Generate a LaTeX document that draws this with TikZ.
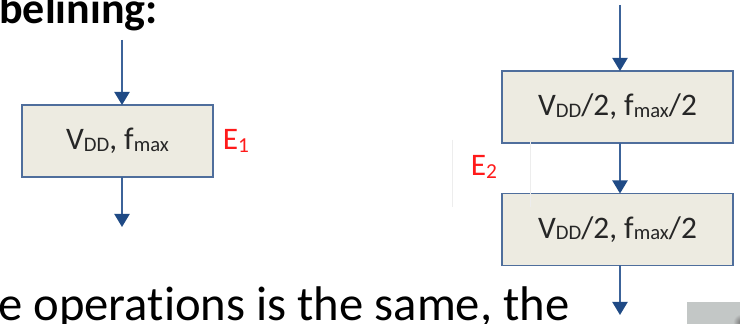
\documentclass[tikz,border=0pt]{standalone}
\usepackage{fontspec}
\setmainfont[RawFeature={-liga}]{Carlito}
\usetikzlibrary{arrows.meta}
\definecolor{boxfill}{HTML}{EDEBE1}
\definecolor{boxline}{HTML}{4F6E9C}
\definecolor{arrline}{HTML}{3C6399}
\definecolor{arrhead}{HTML}{1F4A85}
\definecolor{elabel}{HTML}{FF1A1A}
\definecolor{photo}{HTML}{C3C7C6}
\newcommand\lowsub[1]{\raisebox{-1.2pt}{\fontsize{15.5}{16}\selectfont #1}}
\newcommand\esub[1]{\raisebox{-2pt}{\fontsize{16}{17}\selectfont #1}}
\tikzset{
  stagebox/.style={draw=boxline, fill=boxfill, line width=1.1pt, inner sep=0pt, outer sep=0pt,
    minimum height=54pt, font=\fontsize{23.5}{25}\selectfont, text=black!85},
  flow/.style={draw=arrline, line width=1.5pt, -{Triangle[length=9.75pt, width=11.25pt, color=arrhead]}},
  elab/.style={text=elabel, font=\fontsize{23.5}{25}\selectfont, inner sep=0pt},
  bigtext/.style={font=\fontsize{36.5}{38}\selectfont, inner sep=0pt, anchor=base west},
  faint/.style={draw=black!7, line width=0.5pt}
}
\begin{document}
\begin{tikzpicture}[x=0.75pt, y=-0.75pt]
\clip (0,0) rectangle (740,324);
\fill[white] (0,0) rectangle (740,324);

% title fragment and body fragment
\node[bigtext, font=\fontsize{33}{35}\selectfont\bfseries] (title) at (-1,24) {belining:};
\node[bigtext] (body) at (-2,321) {e operations is the same, the};

% left: single stage
\node[stagebox, minimum width=143.25pt] (b1) at (117.5,141) {V\lowsub{DD}, f\lowsub{max}};
\coordinate (l0) at (122,40);
\coordinate (l1) at (122,227);
\draw[flow] (l0) -- (l0 |- b1.north);
\draw[flow] (l0 |- b1.south) -- (l1);
\node[elab] (e1) at (236,141) {E\esub{1}};

% right: two stages
\node[stagebox, minimum width=173.25pt] (b2) at (617.5,107) {V\lowsub{DD}/2, f\lowsub{max}/2};
\node[stagebox, minimum width=173.25pt] (b3) at (617.5,229.5) {V\lowsub{DD}/2, f\lowsub{max}/2};
\coordinate (r0) at (620,5);
\coordinate (r1) at (620,315);
\draw[flow] (r0) -- (r0 |- b2.north);
\draw[flow] (r0 |- b2.south) -- (r0 |- b3.north);
\draw[flow] (r0 |- b3.south) -- (r1);
\node[elab] (e2) at (484,167) {E\esub{2}};

% faint frame lines around E2
\draw[faint] (452,140) -- (452,207);
\draw[faint] (530,140) -- (530,207);

% photo fragment bottom right
\fill[photo] (687,302) rectangle (740,324);
\shade[inner color=black!55, outer color=photo] (741,322) circle (8);
\end{tikzpicture}
\end{document}
